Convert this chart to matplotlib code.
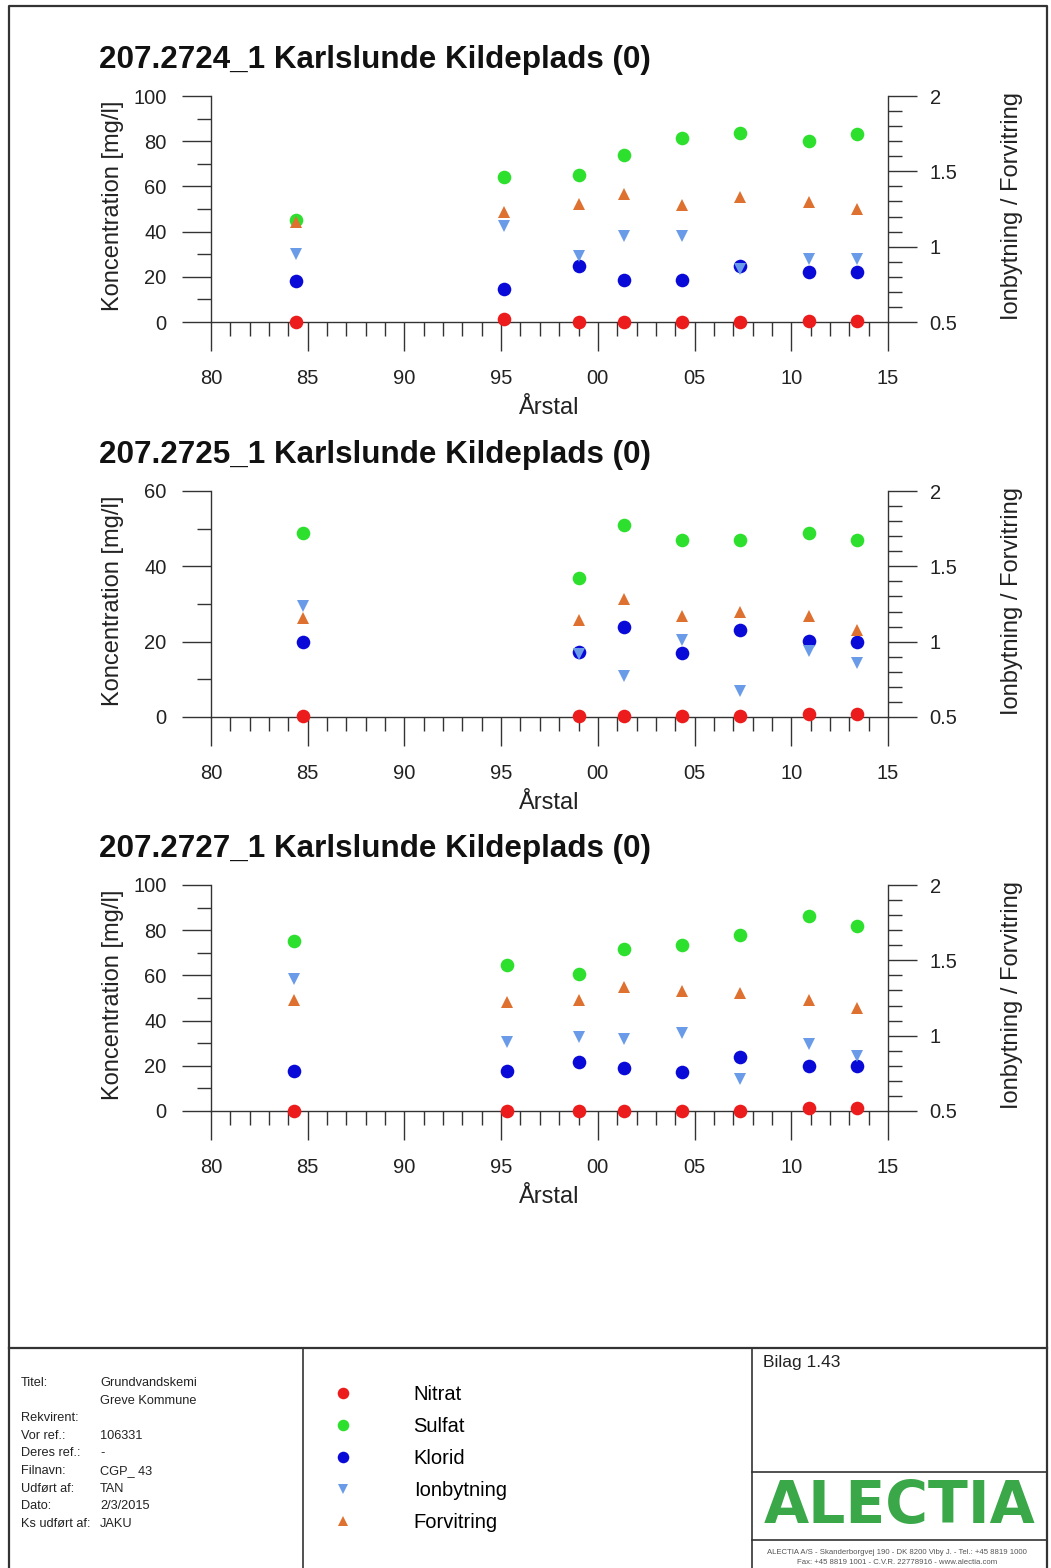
import matplotlib
matplotlib.use("Agg")
import matplotlib.pyplot as plt
from matplotlib.ticker import MultipleLocator, FuncFormatter

plt.rcParams['font.family'] = ['Liberation Sans', 'DejaVu Sans']

# ---- data ----
titles = ["207.2724_1 Karlslunde Kildeplads (0)",
          "207.2725_1 Karlslunde Kildeplads (0)",
          "207.2727_1 Karlslunde Kildeplads (0)"]
y_max = [100, 60, 100]

years_1 = [1984.4, 1995.15, 1999.0, 2001.35, 2004.35, 2007.35, 2010.9, 2013.4]
nitrat_1 = [0.0, 1.3, 0.1, 0.0, 0.1, 0.1, 0.6, 0.6]
sulfat_1 = [45.3, 64.0, 65.0, 73.8, 81.2, 83.7, 80.0, 83.3]
klorid_1 = [18.3, 14.6, 24.6, 18.8, 18.8, 24.7, 22.2, 22.2]
ionbyt_1 = [0.95, 1.135, 0.94, 1.068, 1.068, 0.85, 0.92, 0.92]
forvit_1 = [1.163, 1.23, 1.28, 1.352, 1.274, 1.33, 1.297, 1.25]

years_2 = [1984.75, 1999.0, 2001.35, 2004.35, 2007.35, 2010.9, 2013.4]
nitrat_2 = [0.2, 0.35, 0.2, 0.2, 0.35, 0.7, 0.7]
sulfat_2 = [48.9, 36.9, 50.9, 46.9, 46.9, 48.9, 46.9]
klorid_2 = [19.9, 17.2, 23.8, 17.0, 23.2, 20.1, 19.9]
ionbyt_2 = [1.234, 0.919, 0.775, 1.01, 0.675, 0.935, 0.857]
forvit_2 = [1.157, 1.146, 1.281, 1.168, 1.20, 1.168, 1.075]

years_3 = [1984.3, 1995.3, 1999.0, 2001.35, 2004.35, 2007.35, 2010.9, 2013.4]
nitrat_3 = [0.2, 0.0, 0.2, 0.2, 0.2, 0.2, 1.2, 1.2]
sulfat_3 = [75.3, 64.8, 60.5, 71.6, 73.4, 77.8, 86.1, 82.0]
klorid_3 = [17.8, 17.9, 21.7, 19.2, 17.2, 23.8, 19.8, 19.8]
ionbyt_3 = [1.379, 0.955, 0.993, 0.981, 1.017, 0.715, 0.948, 0.868]
forvit_3 = [1.234, 1.226, 1.234, 1.325, 1.294, 1.285, 1.234, 1.186]

series_names = ["Nitrat", "Sulfat", "Klorid", "Ionbytning", "Forvitring"]
colors = ["#ec1c1c", "#2ee02e", "#0a0ad8", "#6a9be8", "#de7030"]

footer_keys = ["Titel:", "", "Rekvirent:", "Vor ref.:", "Deres ref.:",
               "Filnavn:", "Udført af:", "Dato:", "Ks udført af:"]
footer_vals = ["Grundvandskemi", "Greve Kommune", "", "106331", "-",
               "CGP_ 43", "TAN", "2/3/2015", "JAKU"]

plots = [
    (years_1, nitrat_1, sulfat_1, klorid_1, ionbyt_1, forvit_1),
    (years_2, nitrat_2, sulfat_2, klorid_2, ionbyt_2, forvit_2),
    (years_3, nitrat_3, sulfat_3, klorid_3, ionbyt_3, forvit_3),
]

W, H = 1051, 1568
fig = plt.figure(figsize=(W / 100, H / 100), dpi=100)

# frame axes in pixel units for the sheet border
fr = fig.add_axes([0, 0, 1, 1])
fr.set_xlim(0, W)
fr.set_ylim(H, 0)
fr.axis('off')
lc = '#333333'
fr.plot([9, 9, 1047, 1047], [H, 6, 6, H], color=lc, lw=1.6)
fr.plot([9, 1047], [1348, 1348], color=lc, lw=1.6)
fr.plot([303, 303], [1348, H], color=lc, lw=1.2)
fr.plot([752, 752], [1348, H], color=lc, lw=1.2)
fr.plot([752, 1047], [1472, 1472], color=lc, lw=1.2)
fr.plot([752, 1047], [1540, 1540], color=lc, lw=1.2)

ax_left = 211 / W
ax_w = 677 / W
zero_px = [322, 717, 1111]
top_px = [96, 491, 885]

handles = None
for i, (yrs, nit, sul, klo, ion, forv) in enumerate(plots):
    p0, p1 = zero_px[i], top_px[i]
    ax = fig.add_axes([ax_left, (H - p0) / H, ax_w, (p0 - p1) / H])
    ax.patch.set_visible(False)
    h1, = ax.plot(yrs, nit, 'o', color=colors[0], ms=9.8, mew=0, clip_on=False, zorder=4)
    h2, = ax.plot(yrs, sul, 'o', color=colors[1], ms=9.8, mew=0, clip_on=False, zorder=4)
    h3, = ax.plot(yrs, klo, 'o', color=colors[2], ms=9.8, mew=0, clip_on=False, zorder=4)
    ax.set_xlim(1980, 2015)
    ax.set_ylim(0, y_max[i])
    ax.spines['top'].set_visible(False)
    ax.spines['right'].set_visible(False)
    for s in ['left', 'bottom']:
        ax.spines[s].set_color(lc)
        ax.spines[s].set_linewidth(1.0)
    ax.xaxis.set_major_locator(MultipleLocator(5))
    ax.xaxis.set_minor_locator(MultipleLocator(1))
    ax.xaxis.set_major_formatter(FuncFormatter(lambda v, p: "%02d" % (int(round(v)) % 100)))
    ax.yaxis.set_major_locator(MultipleLocator(20))
    ax.yaxis.set_minor_locator(MultipleLocator(10))
    ax.tick_params(which='both', direction='out', color=lc, width=1.0, labelsize=14.5,
                   labelcolor='#222222')
    ax.tick_params(which='major', length=21)
    ax.tick_params(which='minor', length=10)
    ax.tick_params(axis='y', which='major', pad=11)
    ax.tick_params(axis='x', which='major', pad=12.5)
    ax.set_xlabel("Årstal", fontsize=17, labelpad=6.5, color='#222222')

    ax2 = ax.twinx()
    ax2.patch.set_visible(False)
    h4, = ax2.plot(yrs, ion, 'v', color=colors[3], ms=8, mew=0, clip_on=False, zorder=4)
    h5, = ax2.plot(yrs, forv, '^', color=colors[4], ms=8, mew=0, clip_on=False, zorder=4)
    ax2.set_ylim(0.5, 2)
    for s in ['top', 'left', 'bottom']:
        ax2.spines[s].set_visible(False)
    ax2.spines['right'].set_color(lc)
    ax2.spines['right'].set_linewidth(1.0)
    ax2.yaxis.set_major_locator(MultipleLocator(0.5))
    ax2.yaxis.set_minor_locator(MultipleLocator(0.1))
    ax2.yaxis.set_major_formatter(FuncFormatter(lambda v, p: ("%g" % v)))
    ax2.tick_params(which='both', direction='out', color=lc, width=1.0, labelsize=14.5,
                    labelcolor='#222222')
    ax2.tick_params(which='major', length=21, pad=9)
    ax2.tick_params(which='minor', length=10)

    if handles is None:
        handles = [h1, h2, h3, h4, h5]

    mid = (p0 + p1) / 2 - 3
    fig.text(99 / W, 1 - (p1 - 36) / H, titles[i], fontsize=22.6, fontweight='bold',
             va='center', ha='left', color='#111111')
    fig.text(113 / W, 1 - mid / H, "Koncentration [mg/l]", rotation=90, fontsize=17,
             va='center', ha='center', color='#222222')
    fig.text(1012 / W, 1 - mid / H, "Ionbytning / Forvitring", rotation=90, fontsize=17,
             va='center', ha='center', color='#222222')

# legend in the footer
fig.legend(handles, series_names, loc='upper left',
           bbox_to_anchor=(323 / W, 1 - 1385 / H), frameon=False, fontsize=14.5,
           handlelength=2.0, handletextpad=2.5, labelspacing=0.64, borderpad=0,
           borderaxespad=0, markerscale=0.85)

# title block text
for k, (key, val) in enumerate(zip(footer_keys, footer_vals)):
    yy = 1 - (1383 + 17.6 * k) / H
    fig.text(21 / W, yy, key, fontsize=9.2, va='center', color='#222222')
    fig.text(100 / W, yy, val, fontsize=9.2, va='center', color='#222222')

fig.text(763 / W, 1 - 1362 / H, "Bilag 1.43", fontsize=12.5, va='center', color='#222222')
fig.text(900 / W, 1 - 1506 / H, "ALECTIA", fontsize=42, fontweight='bold',
         family='DejaVu Sans', color='#3aa848', ha='center', va='center')
fig.text(897 / W, 1 - 1553 / H,
         "ALECTIA A/S - Skanderborgvej 190 - DK 8200 Viby J. - Tel.: +45 8819 1000",
         fontsize=5.6, ha='center', va='center', color='#555555')
fig.text(897 / W, 1 - 1562 / H,
         "Fax: +45 8819 1001 - C.V.R. 22778916 - www.alectia.com",
         fontsize=5.6, ha='center', va='center', color='#555555')

fig.savefig("out.png", dpi=100)
